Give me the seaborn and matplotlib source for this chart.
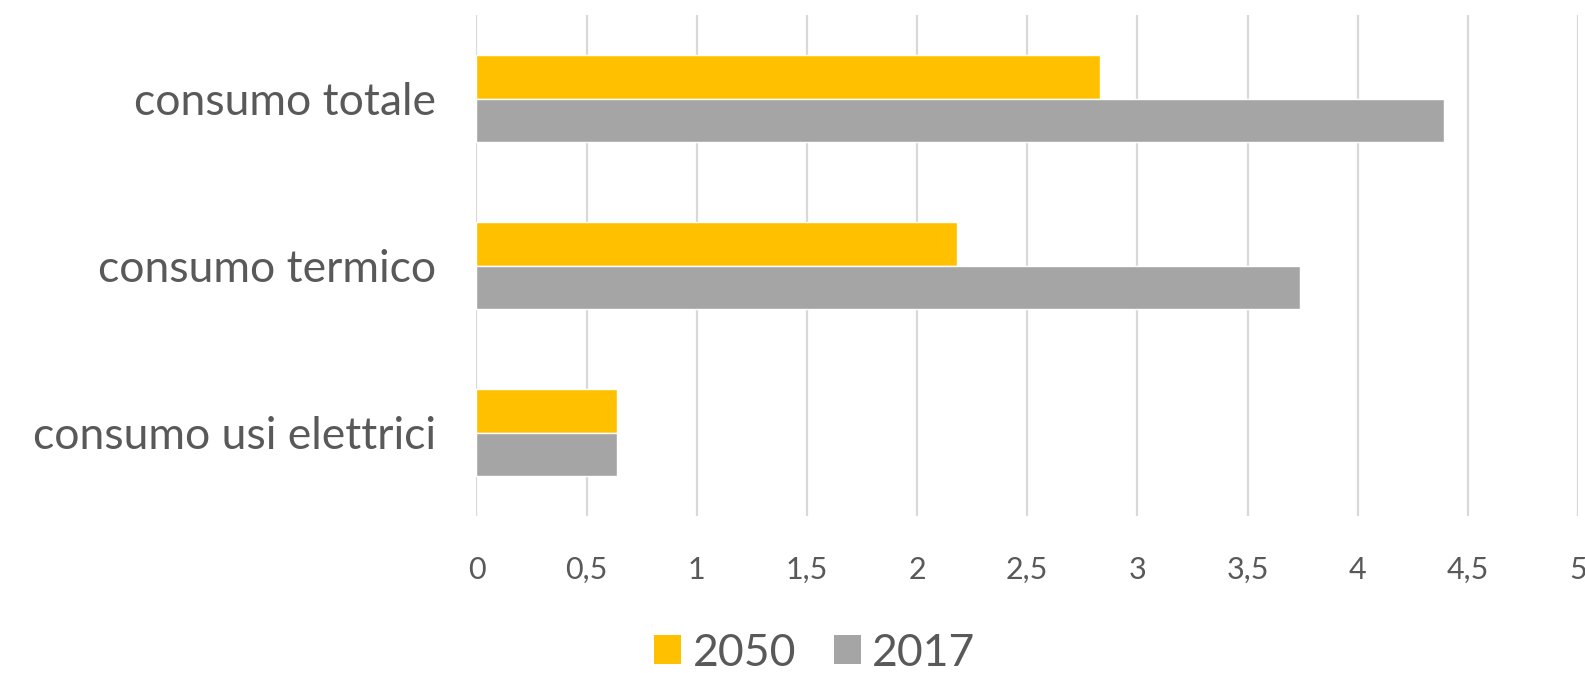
import matplotlib
matplotlib.use("Agg")
import matplotlib.pyplot as plt
from matplotlib.patches import Patch
from matplotlib.ticker import FuncFormatter, MultipleLocator
import pandas as pd
import seaborn as sns

categories = ["consumo totale", "consumo termico", "consumo usi elettrici"]
values_2050 = [2.83, 2.18, 0.64]
values_2017 = [4.39, 3.74, 0.64]
series = ["2050", "2017"]
colors = ["#FFC000", "#A5A5A5"]

df = pd.DataFrame({
    "categoria": categories * 2,
    "valore": values_2050 + values_2017,
    "anno": [series[0]] * 3 + [series[1]] * 3,
})

sns.set_theme(style="white")
plt.rcParams["font.family"] = ["Lato", "DejaVu Sans"]

W, H = 1585, 673
fig = plt.figure(figsize=(W / 100, H / 100), dpi=100)
left, right, top, bottom = 476.5, 1578, 15, 516
ax = fig.add_axes([left / W, 1 - bottom / H, (right - left) / W, (bottom - top) / H])

sns.barplot(data=df, y="categoria", x="valore", hue="anno", order=categories,
            hue_order=series, palette=colors, orient="h", width=0.52, gap=0,
            saturation=1, ax=ax, legend=False, errorbar=None)

ax.set_xlim(0, 5)
ax.set_ylim(2.5, -0.5)
ax.xaxis.set_major_locator(MultipleLocator(0.5))
ax.xaxis.set_major_formatter(FuncFormatter(lambda v, _: f"{v:g}".replace(".", ",")))
ax.grid(axis="x", color="#D9D9D9", linewidth=1.6)
ax.set_axisbelow(True)
for s in ax.spines.values():
    s.set_visible(False)
ax.set_xlabel("")
ax.set_ylabel("")
ax.tick_params(axis="x", length=0, pad=29, labelsize=22, labelcolor="#595959")
ax.tick_params(axis="y", length=0, pad=29, labelsize=32, labelcolor="#595959")
for lbl in ax.get_xticklabels():
    lbl.set_clip_on(False)

handles = [Patch(facecolor=c, edgecolor="none", label=s) for c, s in zip(colors, series)]
fig.legend(handles=handles, loc="center", bbox_to_anchor=(0.514, 1 - 653 / H),
           ncol=2, frameon=False, fontsize=32, labelcolor="#595959",
           handlelength=0.62, handleheight=0.62, handletextpad=0.25,
           columnspacing=0.85, borderpad=0, borderaxespad=0)

fig.savefig("out.png", dpi=100)
